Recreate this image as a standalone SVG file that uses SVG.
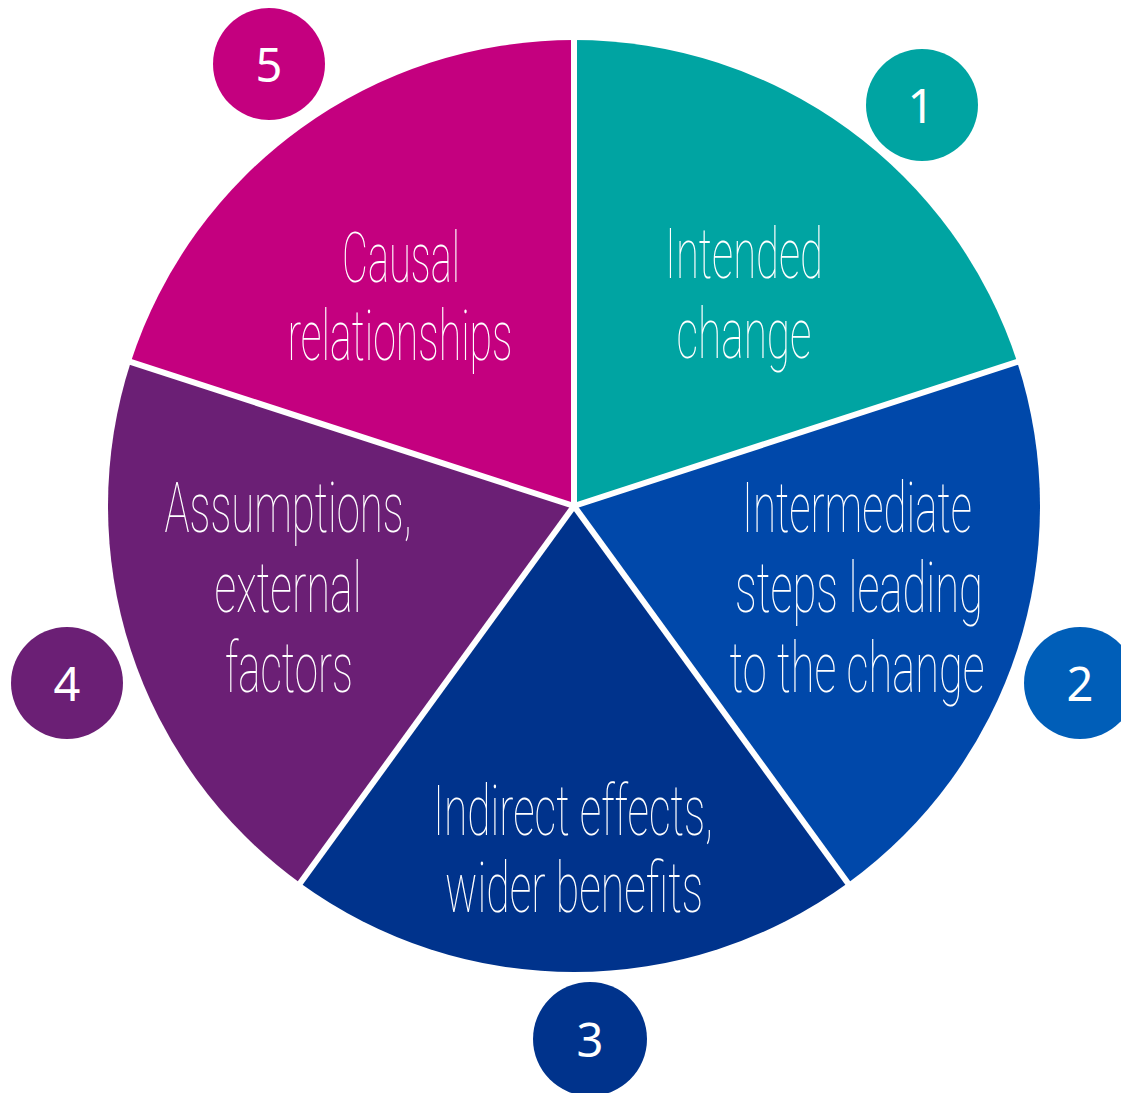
<svg xmlns="http://www.w3.org/2000/svg" width="1121" height="1093" viewBox="0 0 1121 1093">
  <style>
    .label { font-family: Roboto, Lato, "Liberation Sans", sans-serif; font-weight: 100; font-size: 70px; fill: #ffffff; text-anchor: middle; }
    .num { font-family: "Noto Sans", "Open Sans", "Liberation Sans", sans-serif; font-size: 47px; fill: #ffffff; text-anchor: middle; }
    .sep { stroke: #ffffff; stroke-width: 6; stroke-linecap: butt; }
  </style>
  <rect width="1121" height="1093" fill="#ffffff"/>

  <!-- pie centred at (574,506), radius 466, five 72° segments -->
  <g id="segment-1">
    <path d="M574 506 L574 40 A466 466 0 0 1 1017.19 362 Z" fill="#00A4A2"/>
    <text class="label" x="744" y="278" textLength="158" lengthAdjust="spacingAndGlyphs">Intended</text>
    <text class="label" x="744" y="358" textLength="135" lengthAdjust="spacingAndGlyphs">change</text>
  </g>
  <g id="segment-2">
    <path d="M574 506 L1017.19 362 A466 466 0 0 1 847.91 883 Z" fill="#0048AA"/>
    <text class="label" x="857" y="532" textLength="230" lengthAdjust="spacingAndGlyphs">Intermediate</text>
    <text class="label" x="859" y="612" textLength="248" lengthAdjust="spacingAndGlyphs">steps leading</text>
    <text class="label" x="857" y="692" textLength="255" lengthAdjust="spacingAndGlyphs">to the change</text>
  </g>
  <g id="segment-3">
    <path d="M574 506 L847.91 883 A466 466 0 0 1 300.09 883 Z" fill="#00338C"/>
    <text class="label" x="573" y="835" textLength="280" lengthAdjust="spacingAndGlyphs">Indirect effects,</text>
    <text class="label" x="574" y="912" textLength="258" lengthAdjust="spacingAndGlyphs">wider benefits</text>
  </g>
  <g id="segment-4">
    <path d="M574 506 L300.09 883 A466 466 0 0 1 130.81 362 Z" fill="#6B1F75"/>
    <text class="label" x="288" y="532" textLength="247" lengthAdjust="spacingAndGlyphs">Assumptions,</text>
    <text class="label" x="288" y="612" textLength="147" lengthAdjust="spacingAndGlyphs">external</text>
    <text class="label" x="289" y="692" textLength="128" lengthAdjust="spacingAndGlyphs">factors</text>
  </g>
  <g id="segment-5">
    <path d="M574 506 L130.81 362 A466 466 0 0 1 574 40 Z" fill="#C4007F"/>
    <text class="label" x="401" y="282" textLength="118" lengthAdjust="spacingAndGlyphs">Causal</text>
    <text class="label" x="400" y="360" textLength="225" lengthAdjust="spacingAndGlyphs">relationships</text>
  </g>

  <!-- white dividers between segments -->
  <g id="connectors">
    <line class="sep" x1="574" y1="506" x2="574" y2="34"/>
    <line class="sep" x1="574" y1="506" x2="1022.9" y2="360.1"/>
    <line class="sep" x1="574" y1="506" x2="851.4" y2="887.9"/>
    <line class="sep" x1="574" y1="506" x2="296.6" y2="887.9"/>
    <line class="sep" x1="574" y1="506" x2="125.1" y2="360.1"/>
  </g>

  <!-- numbered badges -->
  <g id="badge-1">
    <circle cx="922" cy="105" r="56" fill="#00A4A2"/>
    <text class="num" x="921" y="123">1</text>
  </g>
  <g id="badge-2">
    <circle cx="1080" cy="683" r="56" fill="#005EB8"/>
    <text class="num" x="1080" y="701">2</text>
  </g>
  <g id="badge-3">
    <circle cx="590" cy="1039" r="57" fill="#00338C"/>
    <text class="num" x="590" y="1057">3</text>
  </g>
  <g id="badge-4">
    <circle cx="67" cy="683" r="56" fill="#6B1F75"/>
    <text class="num" x="67" y="701">4</text>
  </g>
  <g id="badge-5">
    <circle cx="269" cy="64" r="56" fill="#C4007F"/>
    <text class="num" x="269" y="82">5</text>
  </g>
</svg>
